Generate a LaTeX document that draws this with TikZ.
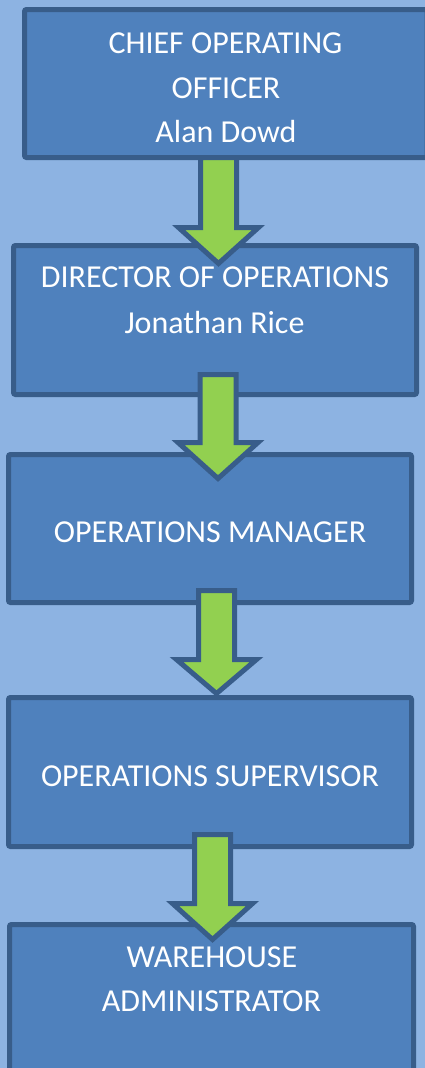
\documentclass[tikz,border=0pt]{standalone}
\usepackage{fontspec}
\setmainfont{Carlito}
\definecolor{pagebg}{HTML}{8DB3E2}
\definecolor{boxfill}{HTML}{4F81BD}
\definecolor{boxline}{HTML}{385D8A}
\definecolor{arrowfill}{HTML}{92D050}
\tikzset{
  rolebox/.style={draw=boxline, fill=boxfill, line width=5pt, rounded corners=2pt,
    inner sep=0pt, outer sep=0pt},
  roletext/.style={text=white, font=\fontsize{32}{38}\selectfont, anchor=base, inner sep=0pt},
  blockarrow/.style={draw=boxline, fill=arrowfill, line width=5pt, line join=miter}
}
% block arrow pointing down: centre x, shaft top y, head base y, tip y
\newcommand\downblock[4]{%
  \draw[blockarrow] (#1-18,#2) -- (#1+18,#2) -- (#1+18,#3) -- (#1+40,#3)
    -- (#1,#4) -- (#1-40,#3) -- (#1-18,#3) -- cycle;}
\begin{document}
\begin{tikzpicture}[x=1pt,y=-1pt]
  \useasboundingbox (0,0) rectangle (425,1068);
  \fill[pagebg] (0,0) rectangle (425,1068);
  \clip (0,0) rectangle (425,1068);

  % role boxes
  \node[rolebox, minimum width=402.5pt, minimum height=148pt] (coo) at (225.75,83.5) {};
  \node[rolebox, minimum width=403pt, minimum height=149pt] (dir) at (215,320) {};
  \node[rolebox, minimum width=403pt, minimum height=148pt] (mgr) at (210,528.5) {};
  \node[rolebox, minimum width=403pt, minimum height=149pt] (sup) at (210,772) {};
  \node[rolebox, minimum width=404pt, minimum height=160pt] (adm) at (211.5,1004.5) {};

  % reporting arrows
  \downblock{218.5}{157.5}{227.5}{263.5}
  \downblock{218}{374.5}{442.5}{478.5}
  \downblock{216.5}{590.5}{659.5}{693.5}
  \downblock{212.5}{834.5}{903.5}{939.5}

  % titles
  \node[roletext] (cooa) at (225.5,53) {CHIEF OPERATING};
  \node[roletext] (coob) at (226,98) {OFFICER};
  \node[roletext] (cooc) at (226,142) {Alan Dowd};
  \node[roletext] (dira) at (215,287) {DIRECTOR OF OPERATIONS};
  \node[roletext] (dirb) at (214.5,333) {Jonathan Rice};
  \node[roletext] (mgra) at (210,542) {OPERATIONS MANAGER};
  \node[roletext] (supa) at (210,786) {OPERATIONS SUPERVISOR};
  \node[roletext] (adma) at (212,967) {WAREHOUSE};
  \node[roletext] (admb) at (211.5,1011) {ADMINISTRATOR};
\end{tikzpicture}
\end{document}
